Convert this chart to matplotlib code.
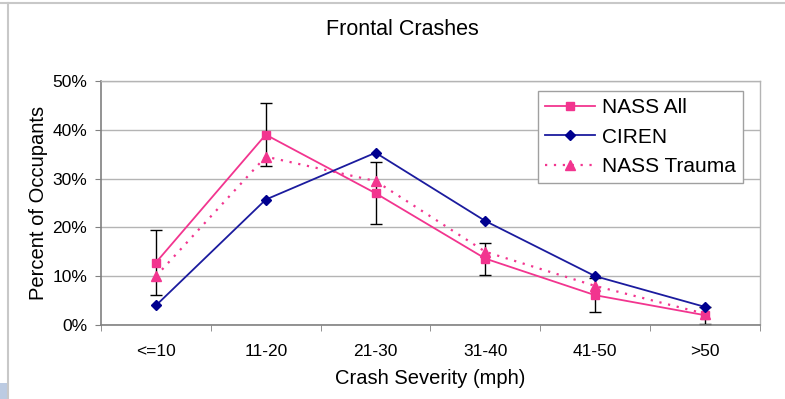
import matplotlib.pyplot as plt
import numpy as np
from matplotlib.patches import Rectangle
from matplotlib.lines import Line2D

plt.rcParams["font.family"] = ["Liberation Sans", "DejaVu Sans"]

# data (percent of occupants)
categories = ["<=10", "11-20", "21-30", "31-40", "41-50", ">50"]
nass_all = [12.8, 39.0, 27.0, 13.6, 6.1, 2.0]
nass_all_err = [6.6, 6.4, 6.3, 3.3, 3.5, 1.7]
ciren = [4.0, 25.7, 35.3, 21.3, 10.0, 3.7]
nass_trauma = [10.0, 34.5, 29.5, 15.0, 8.0, 2.3]

pink = "#f2358f"
navy = "#1b1b9e"

fig = plt.figure(figsize=(7.85, 3.99), dpi=100)
ax = fig.add_axes([0.1287, 0.1855, 0.8394, 0.6115])

x = np.arange(len(categories))

ax.errorbar(x, nass_all, yerr=nass_all_err, fmt="none", ecolor="black",
            elinewidth=1.0, capsize=4, capthick=1.0, zorder=2)
ax.plot(x, nass_all, color=pink, lw=1.3, marker="s", ms=6,
        mfc=pink, mec=pink, label="NASS All", zorder=3)
ax.plot(x, ciren, color=navy, lw=1.3, marker="D", ms=5.5,
        mfc="#00008f", mec="#00008f", label="CIREN", zorder=4)
ax.plot(x, nass_trauma, color=pink, lw=1.6, ls=(0, (1, 3)), marker="^", ms=7,
        mfc=pink, mec=pink, label="NASS Trauma", zorder=3)

ax.set_xlim(-0.5, len(categories) - 0.5)
ax.set_ylim(0, 50)
ax.set_yticks(np.arange(0, 51, 10))
ax.set_yticklabels([f"{v}%" for v in range(0, 51, 10)], fontsize=12.5)
ax.set_xticks(x)
ax.set_xticklabels(categories, fontsize=12.5)
ax.set_xticks(np.arange(-0.5, len(categories), 1), minor=True)
ax.tick_params(axis="x", which="major", length=0, pad=14)
ax.tick_params(axis="x", which="minor", length=4, color="#808080", direction="out")
ax.tick_params(axis="y", length=4, color="#808080", pad=6)

ax.grid(axis="y", color="#b4b4b4", lw=1.0)
ax.set_axisbelow(True)
for side in ["top", "right"]:
    ax.spines[side].set_color("#b4b4b4")
    ax.spines[side].set_linewidth(1.0)
for side in ["left", "bottom"]:
    ax.spines[side].set_color("#808080")
    ax.spines[side].set_linewidth(1.2)

ax.set_xlabel("Crash Severity (mph)", fontsize=14.5, labelpad=7)
ax.set_ylabel("Percent of Occupants", fontsize=14.5, labelpad=3)

leg = ax.legend(loc="upper right", bbox_to_anchor=(0.974, 0.959), borderaxespad=0,
                fontsize=15, fancybox=False, framealpha=1, edgecolor="#a0a0a0",
                handlelength=2.4, handletextpad=0.3, labelspacing=0.5,
                borderpad=0.35)
leg.get_frame().set_linewidth(1.0)

fig.text(0.513, 0.925, "Frontal Crashes", ha="center", va="center", fontsize=15.5)

# outer frame of the chart
fig.add_artist(Line2D([0, 1], [1 - 3 / 399, 1 - 3 / 399], color="#c8c8c8", lw=1.5,
                      transform=fig.transFigure))
fig.add_artist(Line2D([8 / 785, 8 / 785], [0, 1 - 3 / 399], color="#c8c8c8", lw=1.5,
                      transform=fig.transFigure))
fig.add_artist(Rectangle((0, 0), 7 / 785, 16 / 399, facecolor="#bccbe2",
                         edgecolor="none", transform=fig.transFigure))

fig.savefig("out.png", dpi=100)
